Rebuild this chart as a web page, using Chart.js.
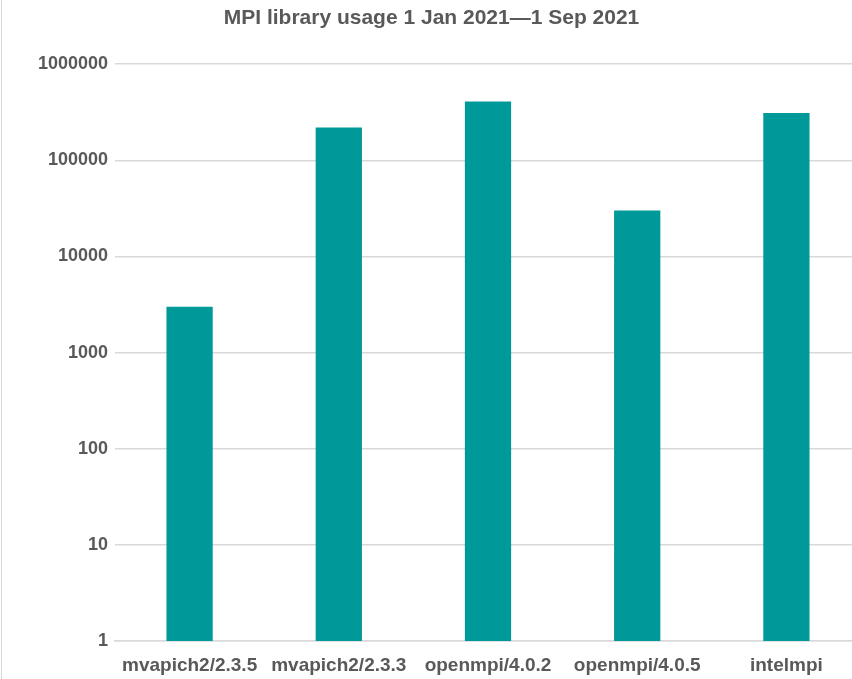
<!DOCTYPE html>
<html>
<head>
<meta charset="utf-8">
<script src="https://cdn.jsdelivr.net/npm/chart.js@4.4.1/dist/chart.umd.min.js"></script>
<style>
    html, body { margin: 0; padding: 0; background: #fff; overflow: hidden; }
    #wrap {
        position: relative;
        width: 860px;
        height: 679px;
        margin-left: 1px;
        border-left: 1px solid #d9d9d9;
    }
</style>
</head>
<body>
<div id="wrap"><canvas id="usageChart"></canvas></div>
<script>
// Chart data
const libraries = ['mvapich2/2.3.5', 'mvapich2/2.3.3', 'openmpi/4.0.2', 'openmpi/4.0.5', 'intelmpi'];
const usageCounts = [3000, 220000, 410000, 30000, 310000];
const yTicks = [1, 10, 100, 1000, 10000, 100000, 1000000];
const chartTitle = 'MPI library usage 1 Jan 2021\u20141 Sep 2021';

const labelFont = "'Liberation Sans', Arial, sans-serif";
const textGray = '#595959';
const gridGray = '#d9d9d9';

document.addEventListener('DOMContentLoaded', () => {
    initUsageChart();
});

function initUsageChart() {
    const ctx = document.getElementById('usageChart').getContext('2d');

    new Chart(ctx, {
        type: 'bar',
        data: {
            labels: libraries,
            datasets: [{
                label: 'Usage',
                data: usageCounts,
                backgroundColor: '#009999',
                borderWidth: 0,
                categoryPercentage: 1,
                barPercentage: 0.31
            }]
        },
        options: {
            responsive: true,
            maintainAspectRatio: false,
            animation: false,
            layout: {
                padding: { left: 0, right: 1, top: 0, bottom: 0 }
            },
            scales: {
                y: {
                    type: 'logarithmic',
                    min: 1,
                    max: 1000000,
                    afterBuildTicks: scale => {
                        scale.ticks = yTicks.map(v => ({ value: v }));
                    },
                    afterFit: scale => {
                        scale.width = 113;
                    },
                    border: { display: false },
                    grid: {
                        color: gridGray,
                        lineWidth: 1.5,
                        drawTicks: false
                    },
                    ticks: {
                        color: textGray,
                        padding: 7,
                        font: { family: labelFont, size: 18, weight: 'bold' },
                        callback: value => String(value)
                    }
                },
                x: {
                    afterFit: scale => {
                        scale.height = 38;
                    },
                    border: { display: true, color: gridGray, width: 1.5 },
                    grid: { display: false },
                    ticks: {
                        color: textGray,
                        padding: 5,
                        maxRotation: 0,
                        autoSkip: false,
                        font: { family: labelFont, size: 19, weight: 'bold' }
                    }
                }
            },
            plugins: {
                legend: { display: false },
                tooltip: { enabled: false },
                title: {
                    display: true,
                    text: chartTitle,
                    color: textGray,
                    font: { family: labelFont, size: 21, weight: 'bold' },
                    padding: { top: 6, bottom: 33 }
                }
            }
        }
    });
}
</script>
</body>
</html>
